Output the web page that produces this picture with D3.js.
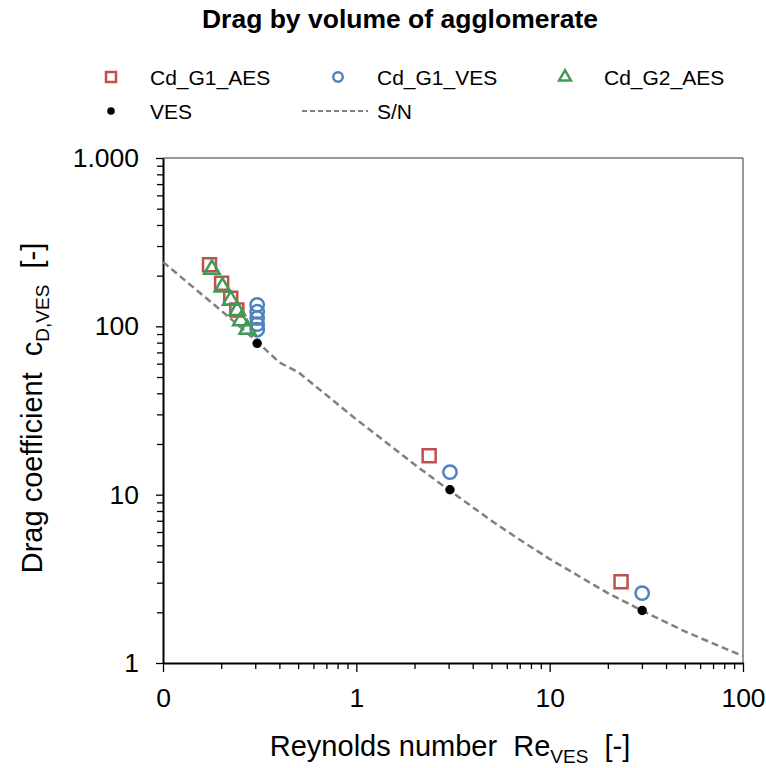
<!DOCTYPE html>
<html><head><meta charset="utf-8">
<script src="https://cdn.jsdelivr.net/npm/d3@7"></script>
<style>body{margin:0;background:#fff}svg{font-family:"Liberation Sans",Arial,sans-serif}</style>
</head><body>
<script>
// ---- data ----
const g1aesRe = [0.174, 0.201, 0.224, 0.241, 2.38, 23.4];
const g1aesCd = [232, 180, 147, 125, 17.0, 3.04];
const g1vesRe = [0.307, 0.307, 0.307, 0.307, 0.307, 3.05, 30.1];
const g1vesCd = [134, 122, 112, 103, 95.5, 13.6, 2.6];
const g2aesRe = [0.179, 0.203, 0.224, 0.242, 0.253, 0.273];
const g2aesCd = [218, 171, 143, 124, 108, 96];
const vesRe = [0.307, 3.05, 30.1];
const vesCd = [79.3, 10.7, 2.05];
const snRe = [0.1, 0.2, 0.3, 0.4, 0.5, 1, 2, 3, 5, 7, 10, 20, 30, 50, 100];
const snCd = [241, 124, 83, 61, 53.5, 28, 15.1, 10.7, 7.0, 5.4, 4.15, 2.6, 2.05, 1.54, 1.1];
const xTickValues = [0.1, 1, 10, 100];
const xTickLabels = ["0", "1", "10", "100"];
const yTickValues = [1, 10, 100, 1000];
const yTickLabels = ["1", "10", "100", "1.000"];
const seriesNames = ["Cd_G1_AES", "Cd_G1_VES", "Cd_G2_AES", "VES", "S/N"];
const colors = {red: "#C0504D", blue: "#4F81BD", green: "#3F9B57", black: "#000", gray: "#808080"};

const W = 766, H = 768;
const svg = d3.select("body").append("svg").attr("width", W).attr("height", H);
const x = d3.scaleLog().domain([0.1, 100]).range([163, 743]);
const y = d3.scaleLog().domain([1, 1000]).range([663, 158]);

// title
svg.append("text").attr("x", 400).attr("y", 28).attr("text-anchor", "middle")
  .attr("font-size", 26.5).attr("font-weight", "bold").text("Drag by volume of agglomerate");

// plot border (top/right)
svg.append("path").attr("d", `M163,158H743V663`).attr("fill", "none").attr("stroke", "#333").attr("stroke-width", 1);

// minor ticks
const minorX = [];
[0.1, 1, 10].forEach(d => { for (let k = 2; k <= 9; k++) minorX.push(d * k); });
const minorY = [];
[1, 10, 100].forEach(d => { for (let k = 2; k <= 9; k++) minorY.push(d * k); });

const gxMinor = svg.append("g").attr("transform", "translate(0,663)")
  .call(d3.axisBottom(x).tickValues(minorX).tickSize(6).tickFormat(""));
gxMinor.select(".domain").remove();
const gyMinor = svg.append("g").attr("transform", "translate(163,0)")
  .call(d3.axisLeft(y).tickValues(minorY).tickSize(6).tickFormat(""));
gyMinor.select(".domain").remove();

const gx = svg.append("g").attr("transform", "translate(0,663)")
  .call(d3.axisBottom(x).tickValues(xTickValues).tickSizeInner(9).tickSizeOuter(0).tickPadding(16)
    .tickFormat((d, i) => xTickLabels[i]));
const gy = svg.append("g").attr("transform", "translate(163,0)")
  .call(d3.axisLeft(y).tickValues(yTickValues).tickSizeInner(7).tickSizeOuter(0).tickPadding(17)
    .tickFormat((d, i) => yTickLabels[i]));
[gx, gy].forEach(g => {
  g.selectAll("text").attr("font-size", 26.5).attr("fill", "#000").attr("font-family", "Liberation Sans, Arial, sans-serif");
  g.select(".domain").attr("stroke", "#000").attr("stroke-width", 2);
  g.selectAll(".tick line").attr("stroke", "#000").attr("stroke-width", 1.3);
});
[gxMinor, gyMinor].forEach(g => g.selectAll(".tick line").attr("stroke", "#000").attr("stroke-width", 1.3));
gx.selectAll("text").attr("dy", "0.71em");

// axis titles
const xt = svg.append("text").attr("x", 450).attr("y", 756).attr("text-anchor", "middle").attr("font-size", 29);
xt.append("tspan").text("Reynolds number\u00a0\u00a0Re");
xt.append("tspan").attr("font-size", 19).attr("dy", 7).text("VES");
xt.append("tspan").attr("dy", -7).text("\u00a0\u00a0[-]");

const yt = svg.append("text").attr("transform", "translate(42,408) rotate(-90)").attr("text-anchor", "middle").attr("font-size", 29);
yt.append("tspan").text("Drag coefficient\u00a0\u00a0c");
yt.append("tspan").attr("font-size", 19).attr("dy", 7).text("D,VES");
yt.append("tspan").attr("dy", -7).text("\u00a0\u00a0[-]");

// S/N line
const line = d3.line().x((d, i) => x(snRe[i])).y((d, i) => y(snCd[i]));
svg.append("path").attr("d", line(snRe)).attr("fill", "none").attr("stroke", colors.gray)
  .attr("stroke-width", 2.5).attr("stroke-dasharray", "7,4");

// markers
const sq = d3.symbol().type(d3.symbolSquare).size(169);
const ci = d3.symbol().type(d3.symbolCircle).size(140);
const tr = d3.symbol().type(d3.symbolTriangle).size(105);
const dot = d3.symbol().type(d3.symbolCircle).size(70);

svg.append("g").selectAll("path").data(g1aesRe).join("path")
  .attr("transform", (d, i) => `translate(${x(d)},${y(g1aesCd[i])})`).attr("d", sq)
  .attr("fill", "none").attr("stroke", colors.red).attr("stroke-width", 2.5);
svg.append("g").selectAll("path").data(g1vesRe).join("path")
  .attr("transform", (d, i) => `translate(${x(d)},${y(g1vesCd[i])})`).attr("d", ci)
  .attr("fill", "none").attr("stroke", colors.blue).attr("stroke-width", 2.5);
svg.append("g").selectAll("path").data(g2aesRe).join("path")
  .attr("transform", (d, i) => `translate(${x(d)},${y(g2aesCd[i])})`).attr("d", tr)
  .attr("fill", "none").attr("stroke", colors.green).attr("stroke-width", 2.5);
svg.append("g").selectAll("path").data(vesRe).join("path")
  .attr("transform", (d, i) => `translate(${x(d)},${y(vesCd[i])})`).attr("d", dot)
  .attr("fill", colors.black);

// legend
const leg = svg.append("g").attr("font-size", 21);
const legItems = [
  {name: seriesNames[0], mx: 111, my: 77, tx: 150, kind: "sq"},
  {name: seriesNames[1], mx: 338, my: 77, tx: 377, kind: "ci"},
  {name: seriesNames[2], mx: 565, my: 77, tx: 604, kind: "tr"},
  {name: seriesNames[3], mx: 111, my: 111, tx: 150, kind: "dot"},
  {name: seriesNames[4], mx: 335, my: 111, tx: 377, kind: "line"}
];
legItems.forEach(it => {
  if (it.kind === "line") {
    leg.append("line").attr("x1", 302).attr("x2", 368).attr("y1", it.my).attr("y2", it.my)
      .attr("stroke", colors.gray).attr("stroke-width", 2).attr("stroke-dasharray", "5,3");
  } else {
    const sym = {sq: d3.symbol().type(d3.symbolSquare).size(100), ci: d3.symbol().type(d3.symbolCircle).size(70),
      tr: d3.symbol().type(d3.symbolTriangle).size(60), dot: d3.symbol().type(d3.symbolCircle).size(45)}[it.kind];
    const col = {sq: colors.red, ci: colors.blue, tr: colors.green, dot: colors.black}[it.kind];
    const p = leg.append("path").attr("d", sym).attr("transform", `translate(${it.mx},${it.my})`);
    if (it.kind === "dot") p.attr("fill", col);
    else p.attr("fill", "none").attr("stroke", col).attr("stroke-width", 2.5);
  }
  leg.append("text").attr("x", it.tx).attr("y", it.my + 7.5).text(it.name);
});
</script>
</body></html>
